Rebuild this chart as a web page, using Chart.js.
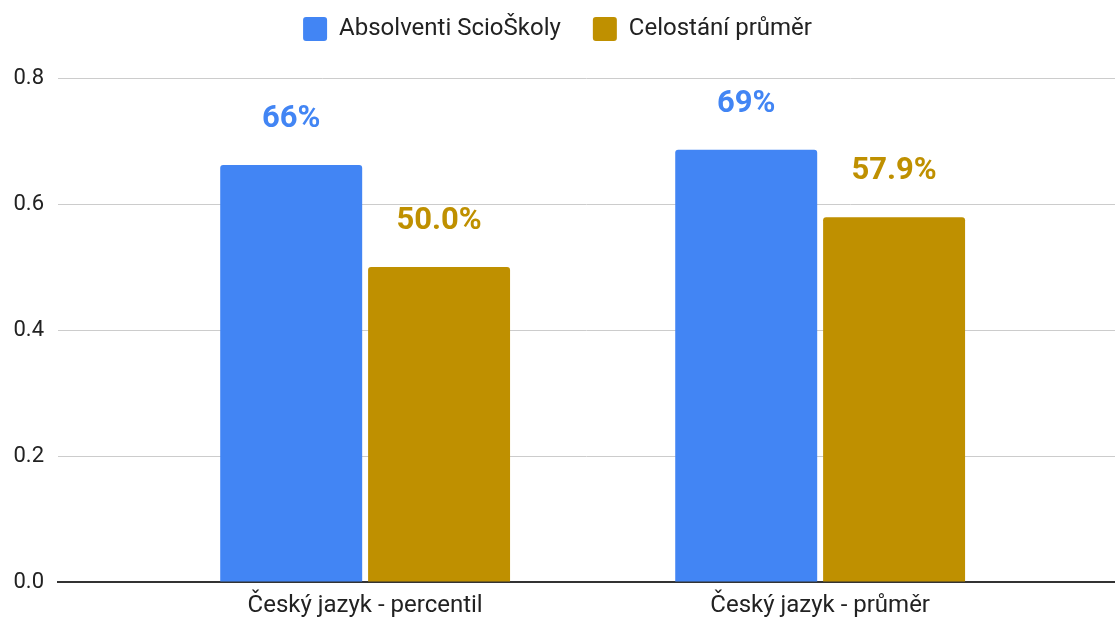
<!DOCTYPE html>
<html>
<head>
<meta charset="utf-8">
<script src="https://cdn.jsdelivr.net/npm/chart.js@4/dist/chart.umd.min.js"></script>
<style>
  html, body { margin: 0; padding: 0; background: #fff; }
  #wrap { width: 1115px; height: 618px; }
</style>
</head>
<body>
<div id="wrap"><canvas id="chart"></canvas></div>
<script>
// chart data
const categories = ['Český jazyk - percentil', 'Český jazyk - průměr'];
const seriesNames = ['Absolventi ScioŠkoly', 'Celostání průměr'];
const scioValues = [0.662, 0.686];
const nationalValues = [0.500, 0.579];
const labelDecimals = [0, 1];
const yTicks = [0, 0.2, 0.4, 0.6, 0.8];

const colors = ['#4285f4', '#bf9000'];

function toPoints(values) {
    return values.map((v, i) => ({ x: i, y: v }));
}

// value labels above the bars
const barLabels = {
    id: 'barLabels',
    afterDatasetsDraw(chart) {
        const ctx = chart.ctx;
        ctx.save();
        ctx.font = 'bold 31px Roboto';
        ctx.textAlign = 'center';
        ctx.textBaseline = 'middle';
        chart.data.datasets.forEach((ds, di) => {
            const meta = chart.getDatasetMeta(di);
            ctx.fillStyle = colors[di];
            meta.data.forEach((bar, i) => {
                const txt = (ds.data[i].y * 100).toFixed(labelDecimals[di]) + '%';
                ctx.fillText(txt, bar.x, bar.y - 46);
            });
        });
        ctx.restore();
    }
};

// extra room under the legend
const legendGap = {
    id: 'legendGap',
    beforeInit(chart) {
        const fit = chart.legend.fit;
        chart.legend.fit = function() {
            fit.bind(chart.legend)();
            this.height += 27;
        };
    }
};

const ctx = document.getElementById('chart').getContext('2d');
new Chart(ctx, {
    type: 'bar',
    data: {
        datasets: [
            { label: seriesNames[0], data: toPoints(scioValues), backgroundColor: colors[0] },
            { label: seriesNames[1], data: toPoints(nationalValues), backgroundColor: colors[1] }
        ]
    },
    options: {
        responsive: true,
        maintainAspectRatio: false,
        animation: false,
        layout: { padding: { left: 0, right: 0, top: -15, bottom: 0 } },
        datasets: {
            bar: { categoryPercentage: 0.65, barPercentage: 0.96, borderRadius: 3 }
        },
        plugins: {
            legend: {
                position: 'top',
                labels: {
                    boxWidth: 24, boxHeight: 24, padding: 32,
                    useBorderRadius: true, borderRadius: 3,
                    color: '#222', font: { family: 'Roboto', size: 24 }
                }
            },
            tooltip: { enabled: false }
        },
        scales: {
            x: {
                type: 'linear',
                offset: false,
                min: -0.675,
                max: 1.648,
                afterBuildTicks: scale => { scale.ticks = categories.map((c, i) => ({ value: i })); },
                afterFit: scale => { scale.height = 36; },
                grid: { display: false, drawTicks: false },
                border: { display: true, color: '#333', width: 2 },
                ticks: {
                    autoSkip: false, maxRotation: 0, padding: 10,
                    color: '#222', font: { family: 'Roboto', size: 24 },
                    callback: v => categories[v]
                }
            },
            y: {
                min: 0,
                max: 0.8,
                afterBuildTicks: scale => { scale.ticks = yTicks.map(v => ({ value: v })); },
                afterFit: scale => { scale.width = 58; },
                grid: { color: '#cccccc', drawTicks: false },
                border: { display: false },
                ticks: {
                    padding: 14, color: '#222', font: { family: 'Roboto', size: 22 },
                    callback: v => v.toFixed(1)
                }
            }
        }
    },
    plugins: [barLabels, legendGap]
});
</script>
</body>
</html>
